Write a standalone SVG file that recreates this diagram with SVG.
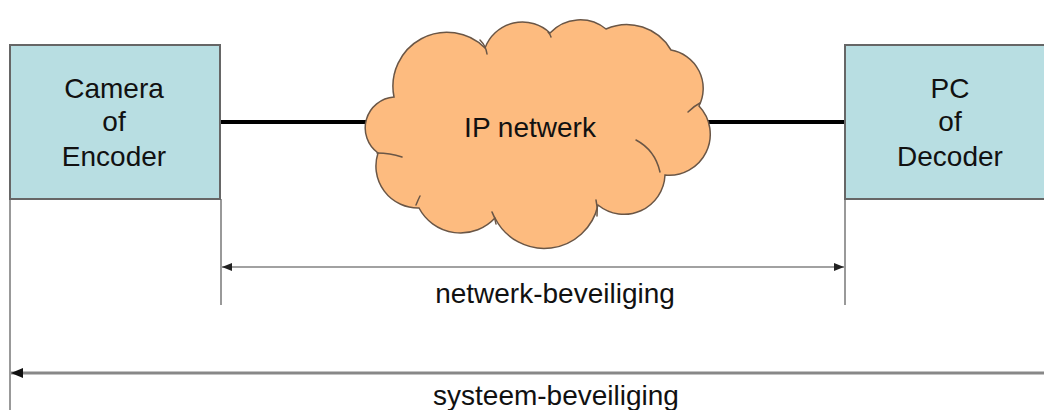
<svg xmlns="http://www.w3.org/2000/svg" width="1044" height="410" viewBox="0 0 1044 410">
  <style>
    .lbl { font-family: "Liberation Sans", Arial, sans-serif; font-size: 28px; fill: #111; text-anchor: middle; }
    .box { fill: #B8DEE2; stroke: #666; stroke-width: 2; }
    .vline { stroke: #777; stroke-width: 1.5; fill: none; }
    .link { stroke: #000; stroke-width: 4; fill: none; }
    .inner { fill: none; stroke: #6a5646; stroke-width: 1.5; stroke-linecap: round; }
  </style>
  <defs>
    <marker id="ahSmall" viewBox="0 0 10 8" refX="10" refY="4" markerWidth="10" markerHeight="8" markerUnits="userSpaceOnUse" orient="auto-start-reverse">
      <path d="M0,0 L10,4 L0,8 Z" fill="#222"/>
    </marker>
    <marker id="ahBig" viewBox="0 0 12 10" refX="12" refY="5" markerWidth="12" markerHeight="10" markerUnits="userSpaceOnUse" orient="auto-start-reverse">
      <path d="M0,0 L12,5 L0,10 Z" fill="#111"/>
    </marker>
  </defs>

  <rect x="0" y="0" width="1044" height="410" fill="#fff"/>

  <g id="connectors">
    <line class="link" x1="220" y1="122" x2="372" y2="122"/>
    <line class="link" x1="703" y1="122" x2="845" y2="122"/>
    <line class="vline" x1="10" y1="199" x2="10" y2="410"/>
    <line class="vline" x1="221" y1="199" x2="221" y2="305" stroke="#444"/>
    <line class="vline" x1="845" y1="199" x2="845" y2="305" stroke="#444"/>
    <line x1="222" y1="267" x2="844" y2="267" stroke="#444" stroke-width="1.2" marker-start="url(#ahSmall)" marker-end="url(#ahSmall)"/>
    <line x1="11" y1="373" x2="1044" y2="373" stroke="#888" stroke-width="3" marker-start="url(#ahBig)"/>
  </g>

  <g id="camera-encoder">
    <rect class="box" x="10" y="45" width="210" height="154"/>
    <text class="lbl" x="114" y="98">Camera</text>
    <text class="lbl" x="114" y="131">of</text>
    <text class="lbl" x="114" y="166">Encoder</text>
  </g>

  <g id="pc-decoder">
    <rect class="box" x="845" y="45" width="210" height="154"/>
    <text class="lbl" x="950" y="98">PC</text>
    <text class="lbl" x="950" y="131">of</text>
    <text class="lbl" x="950" y="166">Decoder</text>
  </g>

  <g id="ip-netwerk">
    <path d="M394,97 A54,54 0 0 1 485,48 A40,40 0 0 1 550,33 A41,41 0 0 1 606,29 A51,51 0 0 1 671,50 A39,39 0 0 1 699,106 A41,41 0 0 1 665,175 A41,41 0 0 1 598,205 A55,55 0 0 1 495,218 A47,47 0 0 1 419,208 A42,42 0 0 1 378,153 A31,31 0 0 1 394,97 Z" fill="#FDBB7F" stroke="#6a5646" stroke-width="1.5"/>
    <path class="inner" d="M480,40 Q486,46 487,54"/>
    <path class="inner" d="M548,32 Q550,34 551,37"/>
    <path class="inner" d="M688,112 Q694,106 700,103"/>
    <path class="inner" d="M636,140 Q655,150 660,172"/>
    <path class="inner" d="M596,200 Q598,208 597,216"/>
    <path class="inner" d="M492,212 Q495,217 496,224"/>
    <path class="inner" d="M377,153 Q390,153 402,157"/>
    <path class="inner" d="M416,205 Q418,200 420,196"/>
    <text class="lbl" x="530" y="137">IP netwerk</text>
  </g>

  <g id="labels">
    <text class="lbl" x="555" y="303">netwerk-beveiliging</text>
    <text class="lbl" x="556" y="405">systeem-beveiliging</text>
  </g>
</svg>
